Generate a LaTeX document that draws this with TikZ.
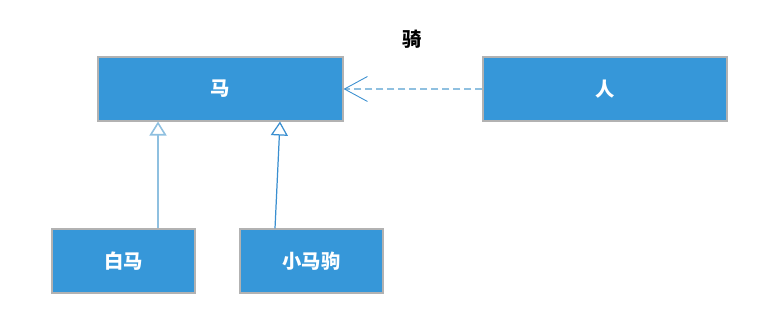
\documentclass[tikz,border=0pt]{standalone}
\usepackage{fontspec}
\newfontfamily\cjk{Noto Sans CJK SC}
\usetikzlibrary{arrows.meta}
\definecolor{boxblue}{RGB}{54,151,217}
\definecolor{lineblue}{RGB}{143,192,224}
\definecolor{darkline}{RGB}{58,143,208}
\begin{document}
\begin{tikzpicture}[font=\cjk\fontsize{11}{13}\selectfont,
  cls/.style={draw=black!30, line width=0.6pt, fill=boxblue, text=white,
    font=\cjk\fontsize{11}{13}\selectfont\bfseries,
    minimum height=1.28cm, inner sep=0pt},
  inherit/.style={line width=0.7pt, -{Triangle[open, fill=white, length=0.28cm, width=0.34cm]}},
  uses/.style={lineblue, line width=0.9pt, dash pattern=on 0.14cm off 0.08cm,
    -{Straight Barb[color=darkline, length=0.46cm, width=0.5cm, line width=0.5pt]}}]
  \useasboundingbox (0,0) rectangle (15.28,6.36);

  % classes
  \node[cls, minimum width=4.9cm]  (ma)     at (4.41,4.58)  {马};
  \node[cls, minimum width=4.88cm] (ren)    at (12.1,4.58)  {人};
  \node[cls, minimum width=2.86cm] (baima)  at (2.47,1.14)  {白马};
  \node[cls, minimum width=2.86cm] (xiaoma) at (6.23,1.14)  {小马驹};

  % dependency label
  \node[font=\cjk\fontsize{11}{13}\selectfont\bfseries] (qi) at (8.24,5.58) {骑};

  % generalisation
  \draw[inherit, lineblue, line width=0.9pt] ([xshift=0.69cm]baima.north) -- ([xshift=-1.25cm]ma.south);
  \draw[inherit, darkline] ([xshift=-0.73cm]xiaoma.north) -- ([xshift=1.19cm]ma.south);

  % dependency
  \draw[uses] (ren.west) -- (ma.east);
\end{tikzpicture}
\end{document}
